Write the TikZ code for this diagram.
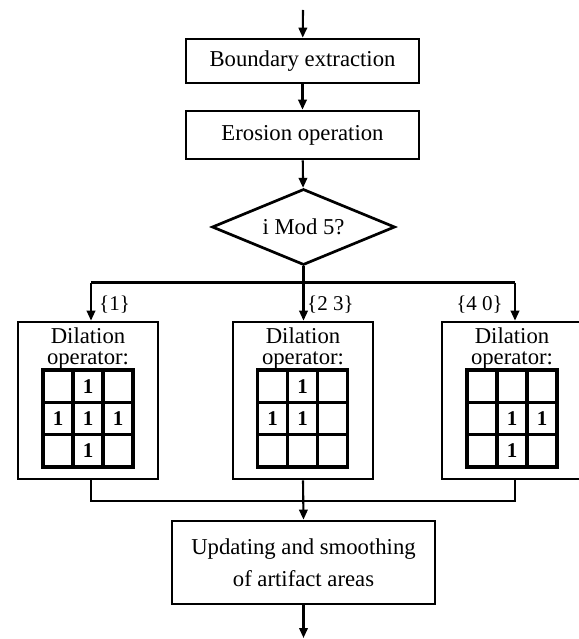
\documentclass[tikz,border=0pt]{standalone}
\usepackage{fontspec}
\setmainfont{Liberation Serif}
\usetikzlibrary{shapes.geometric,arrows.meta}
\newcommand\dilgrid[2]{%
  \draw[gridl] (#1,#2) rectangle ++(90,97);
  \draw[gridl] (#1+30,#2) -- ++(0,97) (#1+60,#2) -- ++(0,97)
                (#1,#2+32.33) -- ++(90,0) (#1,#2+64.67) -- ++(90,0);}
\begin{document}
\begin{tikzpicture}[x=1pt,y=-1pt,
  every node/.style={font=\fontsize{22.7}{26}\selectfont, inner sep=0pt},
  box/.style={draw, line width=2.7pt, rectangle, align=center},
  conn/.style={line width=2.1pt},
  arr/.style={conn, -{Triangle[length=10pt,width=8.5pt]}},
  gridl/.style={line width=3.6pt},
  lab/.style={font=\fontsize{21}{24}\selectfont},
  one/.style={font=\fontsize{21}{24}\selectfont\bfseries}]
\useasboundingbox (0,0) rectangle (578,639);

\coordinate (start) at (303,10);
\node[box, minimum width=233, minimum height=44] (b1) at (302.5,61) {Boundary extraction};
\node[box, minimum width=233, minimum height=48] (b2) at (302.5,135) {Erosion operation};
\node[draw, diamond, line width=2.7pt, aspect=2.4, minimum width=183, minimum height=76] (dia) at (303.5,227) {i Mod 5?};

\node[box, minimum width=140, minimum height=157] (d1) at (88,400.5) {};
\node[box, minimum width=140, minimum height=157] (d2) at (303,400.5) {};
\node[box, minimum width=140, minimum height=157] (d3) at (512,400.5) {};

\foreach \cx/\gx/\nm in {88/43/a, 303/257.5/b, 512/467/c}{
  \node[anchor=base] (t1\nm) at (\cx,343) {Dilation};
  \node[anchor=base] (t2\nm) at (\cx,364) {operator:};
  \dilgrid{\gx}{370}
}
% ones: left
\foreach \r/\c in {0/1,1/0,1/1,1/2,2/1}{
  \node[one] at (43+15+30*\c,370+16.2+32.33*\r) {1};}
\foreach \r/\c in {0/1,1/0,1/1}{
  \node[one] at (257.5+15+30*\c,370+16.2+32.33*\r) {1};}
\foreach \r/\c in {1/1,1/2,2/1}{
  \node[one] at (467+15+30*\c,370+16.2+32.33*\r) {1};}

\node[box, minimum width=263, minimum height=83, align=center, font=\fontsize{22.7}{32}\selectfont] (upd) at (303.5,562.5)
  {Updating and smoothing\\of artifact areas};
\coordinate (end) at (303.5,638);

\draw[arr] (start) -- (b1);
\draw[arr] (b1) -- (b2);
\draw[arr] (b2) -- (dia);

\coordinate (jl) at (91,282.5);
\coordinate (jr) at (515,282.5);
\draw[conn] (jl) -- (jr);
\draw[arr] (dia.south) -- (dia.south |- d2.north);
\draw[arr] (jl) -- (jl |- d1.north);
\draw[arr] (jr) -- (jr |- d3.north);

\node[lab, anchor=west] (l1) at (99,305) {\{1\}};
\node[lab, anchor=west] (l2) at (307,305) {\{2 3\}};
\node[lab, anchor=east] (l3) at (503,305) {\{4 0\}};

\coordinate (kl) at (91,501);
\coordinate (kr) at (515,501);
\draw[conn] (kl |- d1.south) -- (kl) -- (kr) -- (kr |- d3.south);
\draw[arr] (d2.south) -- (upd.north);
\draw[arr] (upd) -- (end);
\end{tikzpicture}
\end{document}
